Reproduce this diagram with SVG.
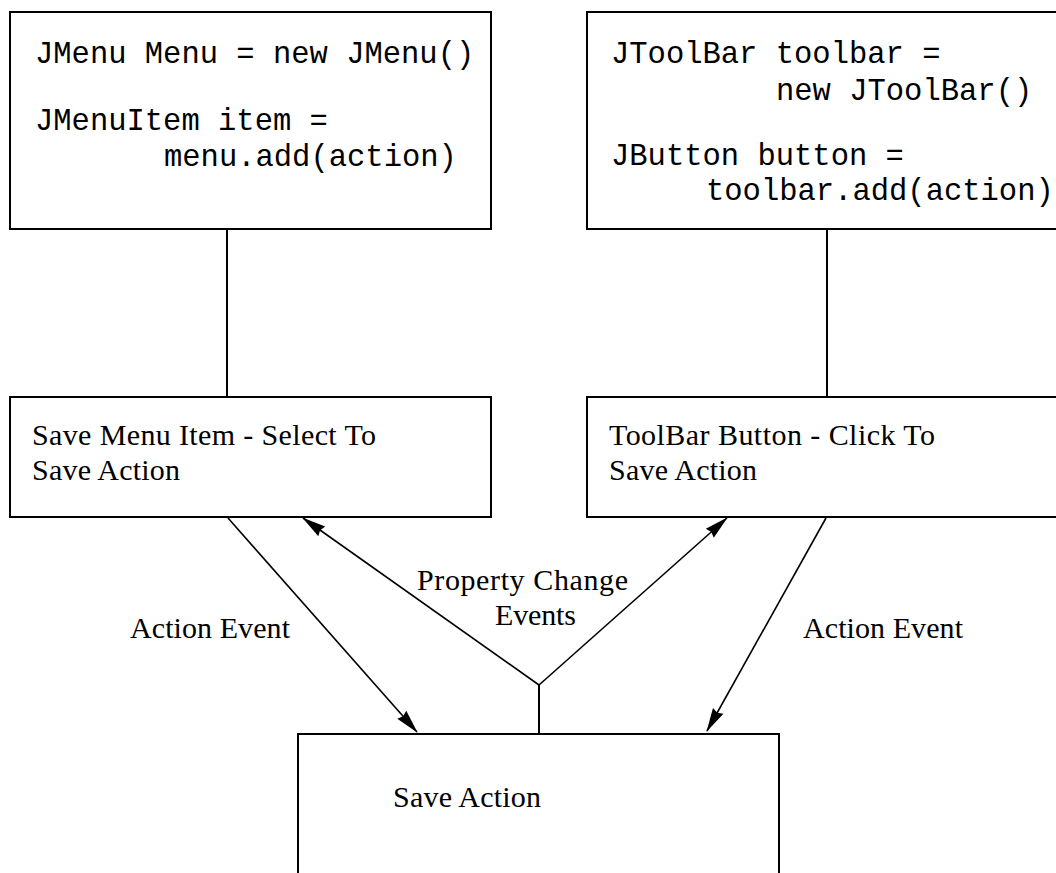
<svg xmlns="http://www.w3.org/2000/svg" width="1056" height="873" viewBox="0 0 1056 873">
  <style>
    .box { fill: #ffffff; stroke: #000000; stroke-width: 2; }
    .code { font-family: "Liberation Mono", "Courier New", monospace; font-size: 30.5px; fill: #000000; }
    .lbl { font-family: "Liberation Serif", "Times New Roman", serif; font-size: 30px; fill: #000000; }
    .conn { stroke: #000000; stroke-width: 1.6; fill: none; }
    .plain { stroke: #000000; stroke-width: 2; fill: none; }
  </style>
  <defs>
    <marker id="arrow" viewBox="-26 -7 28 14" refX="0" refY="0" markerWidth="28" markerHeight="14" markerUnits="userSpaceOnUse" orient="auto">
      <path d="M1,0 L-23,-6 L-21,0 L-23,6 Z" fill="#000000"/>
    </marker>
  </defs>
  <rect width="1056" height="873" fill="#ffffff"/>

  <g id="connectors">
    <line class="plain" x1="227" y1="229" x2="227" y2="397"/>
    <line class="plain" x1="827" y1="229" x2="827" y2="397"/>
    <line class="conn" x1="228" y1="518" x2="417" y2="732" marker-end="url(#arrow)"/>
    <line class="conn" x1="826" y1="518" x2="707" y2="731" marker-end="url(#arrow)"/>
    <line class="conn" x1="539" y1="685" x2="303" y2="518" marker-end="url(#arrow)"/>
    <line class="conn" x1="539" y1="685" x2="727" y2="518" marker-end="url(#arrow)"/>
    <line class="plain" x1="539" y1="685" x2="539" y2="734"/>
    <text class="lbl" x="130" y="638" textLength="160">Action Event</text>
    <text class="lbl" x="803" y="638" textLength="160">Action Event</text>
    <text class="lbl" x="417" y="590" textLength="211">Property Change</text>
    <text class="lbl" x="495" y="625" textLength="81">Events</text>
  </g>

  <g id="jmenu-code">
    <rect class="box" x="10" y="12" width="481" height="217"/>
    <text class="code" x="35" y="63">JMenu Menu = new JMenu()</text>
    <text class="code" x="35" y="130">JMenuItem item =</text>
    <text class="code" x="164" y="166">menu.add(action)</text>
  </g>

  <g id="jtoolbar-code">
    <rect class="box" x="587" y="12" width="480" height="217"/>
    <text class="code" x="611" y="63">JToolBar toolbar =</text>
    <text class="code" x="776" y="100">new JToolBar()</text>
    <text class="code" x="611" y="165">JButton button =</text>
    <text class="code" x="706" y="200">toolbar.add(action)</text>
  </g>

  <g id="save-menu-item">
    <rect class="box" x="10" y="397" width="481" height="120"/>
    <text class="lbl" x="32" y="445" textLength="344">Save Menu Item - Select To</text>
    <text class="lbl" x="32" y="480" textLength="148">Save Action</text>
  </g>

  <g id="toolbar-button">
    <rect class="box" x="587" y="397" width="480" height="120"/>
    <text class="lbl" x="609" y="445" textLength="326">ToolBar Button - Click To</text>
    <text class="lbl" x="609" y="480" textLength="148">Save Action</text>
  </g>

  <g id="save-action">
    <rect class="box" x="298" y="734" width="481" height="150"/>
    <text class="lbl" x="393" y="807" textLength="148">Save Action</text>
  </g>
</svg>
